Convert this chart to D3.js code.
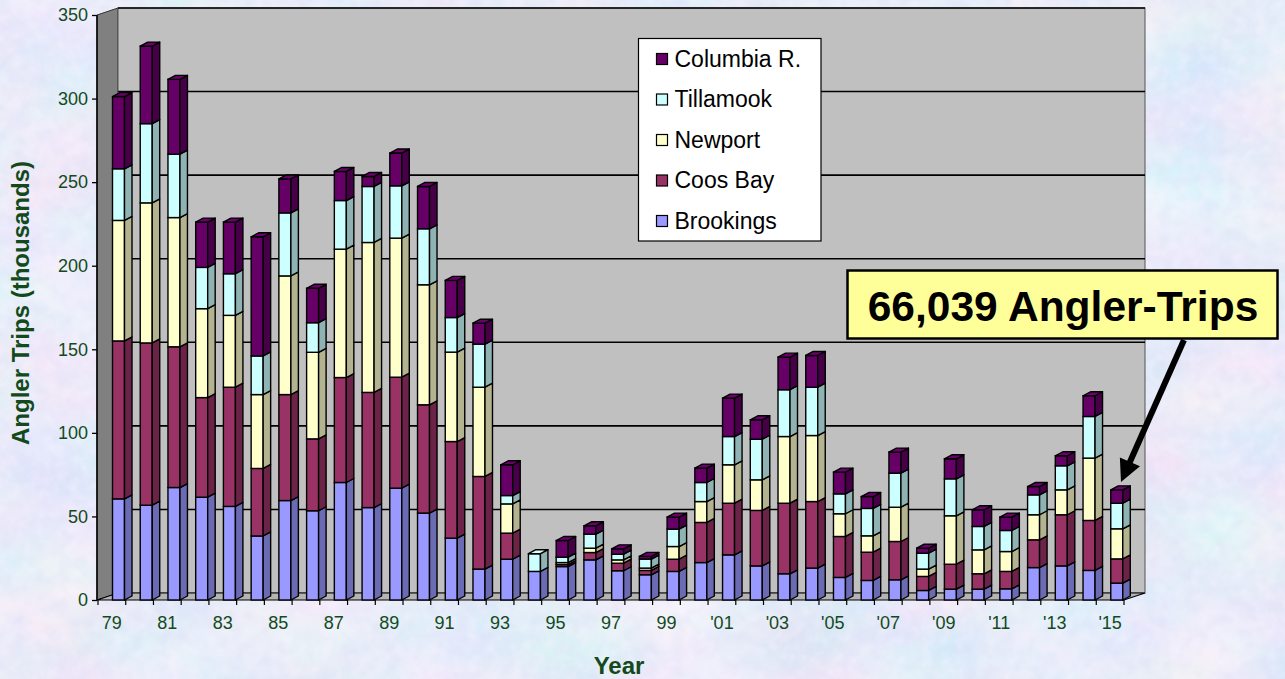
<!DOCTYPE html>
<html>
<head>
<meta charset="utf-8">
<script src="https://cdn.jsdelivr.net/npm/d3@7"></script>
<style>
  html, body { margin: 0; padding: 0; overflow: hidden; }
  svg { display: block; font-family: "Liberation Sans", Arial, sans-serif; }
</style>
</head>
<body>
<svg id="chart" width="1285" height="679"></svg>
<script>
// ---- data (thousands of angler trips) ----
const years = [1979, 1980, 1981, 1982, 1983, 1984, 1985, 1986, 1987, 1988, 1989, 1990,
  1991, 1992, 1993, 1994, 1995, 1996, 1997, 1998, 1999, 2000, 2001, 2002, 2003, 2004,
  2005, 2006, 2007, 2008, 2009, 2010, 2011, 2012, 2013, 2014, 2015];
const brookings = [60.5, 56.7, 67.3, 61.5, 56, 38.3, 59.5, 53.4, 70.3, 55.3, 66.9, 52,
  37, 18.5, 24.4, 17.1, 20, 24, 17.5, 15.1, 17.1, 22.4, 27, 20.4, 15.7, 19.1,
  13.5, 11.7, 12.1, 5.7, 6.5, 6.5, 6.7, 19.4, 20.4, 17.7, 10.1];
const coosBay = [94.5, 97.1, 84.2, 59.6, 71.3, 40.4, 63.4, 43, 62.8, 68.9, 66.4, 64.8,
  57.8, 55.4, 15.6, 0, 1.2, 4.4, 4.5, 2.6, 7.3, 24, 30.9, 33.2, 42.2, 39.8,
  24.5, 16.9, 22.9, 8.4, 14.9, 9.2, 10.4, 16.6, 30.6, 29.9, 14.5];
const newport = [72.1, 83.8, 77.3, 53.2, 43, 44.2, 71, 51.8, 76.8, 89.7, 83.2, 71.8,
  53.5, 53.4, 17.5, 0, 1.2, 2.6, 2, 1.4, 7.6, 12.5, 23, 18.3, 39.9, 39.5,
  13.6, 9.8, 20.5, 4.4, 29, 14.3, 11.9, 15, 14.9, 37.3, 18];
const tillamook = [30.9, 47.4, 37.9, 24.7, 24.9, 23.1, 37.7, 17.7, 29.1, 33.5, 31.3, 33.5,
  20.7, 25.8, 5, 10.6, 3.2, 8.4, 3.4, 5.4, 10.4, 11.4, 16.9, 24.3, 28, 28.9,
  11.9, 16.4, 20.4, 9.5, 22.1, 14, 12.6, 11.9, 14.4, 24.9, 15.3];
const columbia = [43.2, 46.4, 44.8, 27.1, 30.9, 71.3, 20.3, 20.6, 17.4, 6, 19.6, 25.3,
  22.2, 12.5, 18.4, 0, 10, 5, 3.2, 1.6, 7.2, 8.6, 23, 11.6, 19.5, 19,
  13, 7.1, 12.6, 3, 12, 10, 8, 5, 6, 12.4, 8];
const seriesNames = ["Brookings", "Coos Bay", "Newport", "Tillamook", "Columbia R."];
const seriesColors = ["#9999FF", "#993366", "#FFFFCC", "#CCFFFF", "#660066"];
const yTicks = [0, 50, 100, 150, 200, 250, 300, 350];
const labelYears = [1979, 1981, 1983, 1985, 1987, 1989, 1991, 1993, 1995, 1997, 1999,
  2001, 2003, 2005, 2007, 2009, 2011, 2013, 2015];
const calloutText = "66,039 Angler-Trips";

const textGreen = "#124a1c";

const rows = years.map((yr, i) => ({
  year: yr,
  "Brookings": brookings[i],
  "Coos Bay": coosBay[i],
  "Newport": newport[i],
  "Tillamook": tillamook[i],
  "Columbia R.": columbia[i]
}));
const color = d3.scaleOrdinal().domain(seriesNames).range(seriesColors);
const stacked = d3.stack().keys(seriesNames)(rows);

const svg = d3.select("#chart");

// ---- textured paper background ----
const defs = svg.append("defs");
const paper = defs.append("filter").attr("id", "paper")
    .attr("x", 0).attr("y", 0).attr("width", "100%").attr("height", "100%");
paper.append("feTurbulence").attr("type", "fractalNoise")
    .attr("baseFrequency", "0.008 0.012").attr("numOctaves", 3).attr("seed", 7).attr("result", "n1");
paper.append("feColorMatrix").attr("in", "n1").attr("type", "matrix")
    .attr("values", "0.4 0 0 0 0.6  0 0.22 0 0 0.73  0 0 0.1 0 0.89  0 0 0 0 1")
    .attr("result", "c1");
paper.append("feTurbulence").attr("type", "fractalNoise")
    .attr("baseFrequency", "0.09").attr("numOctaves", 3).attr("seed", 2).attr("result", "n2");
paper.append("feColorMatrix").attr("in", "n2").attr("type", "matrix")
    .attr("values", "0 0 0 0 0.93  0 0 0 0 0.9  0 0 0 0 1  0.9 0 0 0 -0.35")
    .attr("result", "c2");
paper.append("feTurbulence").attr("type", "fractalNoise")
    .attr("baseFrequency", "0.07").attr("numOctaves", 2).attr("seed", 11).attr("result", "n3");
paper.append("feColorMatrix").attr("in", "n3").attr("type", "matrix")
    .attr("values", "0 0 0 0 0.7  0 0 0 0 0.74  0 0 0 0 0.92  0.9 0 0 0 -0.38")
    .attr("result", "c3");
const merge = paper.append("feMerge");
merge.append("feMergeNode").attr("in", "c1");
merge.append("feMergeNode").attr("in", "c2");
merge.append("feMergeNode").attr("in", "c3");

svg.append("rect").attr("width", 1285).attr("height", 679)
    .attr("fill", "#cbd9f2").attr("filter", "url(#paper)");

// ---- scales ----
const x = d3.scaleBand().domain(years).range([98, 1124]).paddingInner(0).paddingOuter(0);
const y = d3.scaleLinear().domain([0, 350]).range([600, 15]);

// 3D depth of the plot walls and of the bars
const wall = {dx: 21, dy: -7};
const bar = {off: 14.5, w: 12, dx: 7.5, dy: -4};

const x0 = 97, x1 = 1124;

// side wall
svg.append("path")
    .attr("d", `M${x0},${y(350)}L${x0 + wall.dx},${y(350) + wall.dy}L${x0 + wall.dx},${y(0) + wall.dy}L${x0},${y(0)}Z`)
    .attr("fill", "#808080").attr("stroke", "#333").attr("stroke-width", 1);

// back wall
svg.append("rect")
    .attr("x", x0 + wall.dx).attr("y", y(350) + wall.dy)
    .attr("width", x1 - x0).attr("height", y(0) - y(350))
    .attr("fill", "#C0C0C0").attr("stroke", "#555").attr("stroke-width", 1);

// gridlines on the back wall
svg.append("g").selectAll("line")
    .data(yTicks.filter(d => d > 0))
    .join("line")
      .attr("x1", x0 + wall.dx).attr("x2", x1 + wall.dx)
      .attr("y1", d => y(d) + wall.dy).attr("y2", d => y(d) + wall.dy)
      .attr("stroke", "#000").attr("stroke-width", 1.6);

// floor
svg.append("path")
    .attr("d", `M${x0},${y(0)}L${x0 + wall.dx},${y(0) + wall.dy}L${x1 + wall.dx},${y(0) + wall.dy}L${x1},${y(0)}Z`)
    .attr("fill", "#B4B4B4").attr("stroke", "#000").attr("stroke-width", 1.2);

// ---- y axis ----
const yAxis = svg.append("g")
    .attr("transform", `translate(${x0},0)`)
    .call(d3.axisLeft(y).tickValues(yTicks).tickSize(5).tickPadding(4));
yAxis.select(".domain").remove();
yAxis.selectAll("line").attr("stroke", "#000").attr("stroke-width", 1.3);
yAxis.selectAll("text")
    .attr("font-size", 18).attr("fill", textGreen)
    .attr("font-family", "'Liberation Sans', Arial, sans-serif");
svg.append("line")
    .attr("x1", x0).attr("x2", x0).attr("y1", y(350)).attr("y2", y(0))
    .attr("stroke", "#000").attr("stroke-width", 1.5);

// ---- x axis ----
const xAxis = svg.append("g")
    .attr("transform", `translate(0,${y(0)})`)
    .call(d3.axisBottom(x).tickValues(labelYears).tickSize(0).tickPadding(16.5)
      .tickFormat(d => d < 2000 ? String(d).slice(2) : "'" + String(d).slice(2)));
xAxis.select(".domain").remove();
xAxis.selectAll("text")
    .attr("font-size", 18).attr("fill", textGreen)
    .attr("font-family", "'Liberation Sans', Arial, sans-serif");

// category boundary ticks
svg.append("g").selectAll("line")
    .data(years.concat([null]))
    .join("line")
      .attr("x1", (d, i) => i < years.length ? x(d) : x(years[years.length - 1]) + x.bandwidth())
      .attr("x2", (d, i) => i < years.length ? x(d) : x(years[years.length - 1]) + x.bandwidth())
      .attr("y1", y(0)).attr("y2", y(0) + 5)
      .attr("stroke", "#000").attr("stroke-width", 1.2);

// ---- 3D stacked bars ----
const bars = svg.append("g");
stacked.forEach(layer => {
  const c = color(layer.key);
  const side = d3.color(c).darker(1).formatHex();
  layer.forEach(d => {
    if (d[1] - d[0] <= 0) return;
    const bx = x(d.data.year) + bar.off;
    const yt = y(d[1]), yb = y(d[0]);
    bars.append("rect")
        .attr("x", bx).attr("y", yt).attr("width", bar.w).attr("height", yb - yt)
        .attr("fill", c).attr("stroke", "#000").attr("stroke-width", 1.4);
    bars.append("path")
        .attr("d", `M${bx + bar.w},${yt}L${bx + bar.w + bar.dx},${yt + bar.dy}L${bx + bar.w + bar.dx},${yb + bar.dy}L${bx + bar.w},${yb}Z`)
        .attr("fill", side).attr("stroke", "#000").attr("stroke-width", 1.4)
        .attr("stroke-linejoin", "round");
  });
});

// top caps, coloured by the highest non-empty segment
rows.forEach((r, i) => {
  let topKey = null, total = 0;
  seriesNames.forEach(k => { if (r[k] > 0) topKey = k; total += r[k]; });
  if (!topKey) return;
  const bx = x(r.year) + bar.off, yt = y(total);
  bars.append("path")
      .attr("d", `M${bx},${yt}L${bx + bar.dx},${yt + bar.dy}L${bx + bar.w + bar.dx},${yt + bar.dy}L${bx + bar.w},${yt}Z`)
      .attr("fill", d3.color(color(topKey)).brighter(0.2).formatHex())
      .attr("stroke", "#000").attr("stroke-width", 1.4).attr("stroke-linejoin", "round");
});

// ---- legend ----
const legend = svg.append("g").attr("transform", "translate(638.5,38.5)");
legend.append("rect").attr("width", 182.5).attr("height", 202.5)
    .attr("fill", "#fff").attr("stroke", "#000").attr("stroke-width", 1.2);
const legendOrder = seriesNames.slice().reverse();
const li = legend.selectAll("g.item").data(legendOrder).join("g")
    .attr("class", "item")
    .attr("transform", (d, i) => `translate(18,${20.5 + i * 40.5})`);
li.append("rect").attr("x", 0).attr("y", -5.5).attr("width", 11).attr("height", 11)
    .attr("fill", d => color(d)).attr("stroke", "#000").attr("stroke-width", 1.2);
li.append("text").attr("x", 18).attr("y", 7.8)
    .attr("font-size", 23).attr("fill", "#000").text(d => d);

// ---- callout ----
svg.append("rect").attr("x", 847.5).attr("y", 270.5).attr("width", 430).attr("height", 68)
    .attr("fill", "#FFFF99").attr("stroke", "#000").attr("stroke-width", 2.5);
svg.append("text").attr("x", 1063).attr("y", 321)
    .attr("text-anchor", "middle").attr("font-size", 42.5).attr("font-weight", "bold")
    .attr("fill", "#000").text(calloutText);

const tail = [1184, 340], tip = [1121, 482];
const len = Math.hypot(tip[0] - tail[0], tip[1] - tail[1]);
const ux = (tip[0] - tail[0]) / len, uy = (tip[1] - tail[1]) / len;
const hl = 22, hw = 11;
const base = [tip[0] - hl * ux, tip[1] - hl * uy];
svg.append("line")
    .attr("x1", tail[0]).attr("y1", tail[1]).attr("x2", base[0] + 2 * ux).attr("y2", base[1] + 2 * uy)
    .attr("stroke", "#000").attr("stroke-width", 6);
svg.append("path")
    .attr("d", `M${tip[0]},${tip[1]}L${base[0] - hw * uy},${base[1] + hw * ux}L${base[0] + hw * uy},${base[1] - hw * ux}Z`)
    .attr("fill", "#000");

// ---- axis titles ----
svg.append("text")
    .attr("transform", "translate(29,303) rotate(-90)")
    .attr("text-anchor", "middle").attr("font-size", 24).attr("font-weight", "bold")
    .attr("fill", textGreen).text("Angler Trips (thousands)");
svg.append("text")
    .attr("x", 619).attr("y", 674)
    .attr("text-anchor", "middle").attr("font-size", 24).attr("font-weight", "bold")
    .attr("fill", textGreen).text("Year");
</script>
</body>
</html>
